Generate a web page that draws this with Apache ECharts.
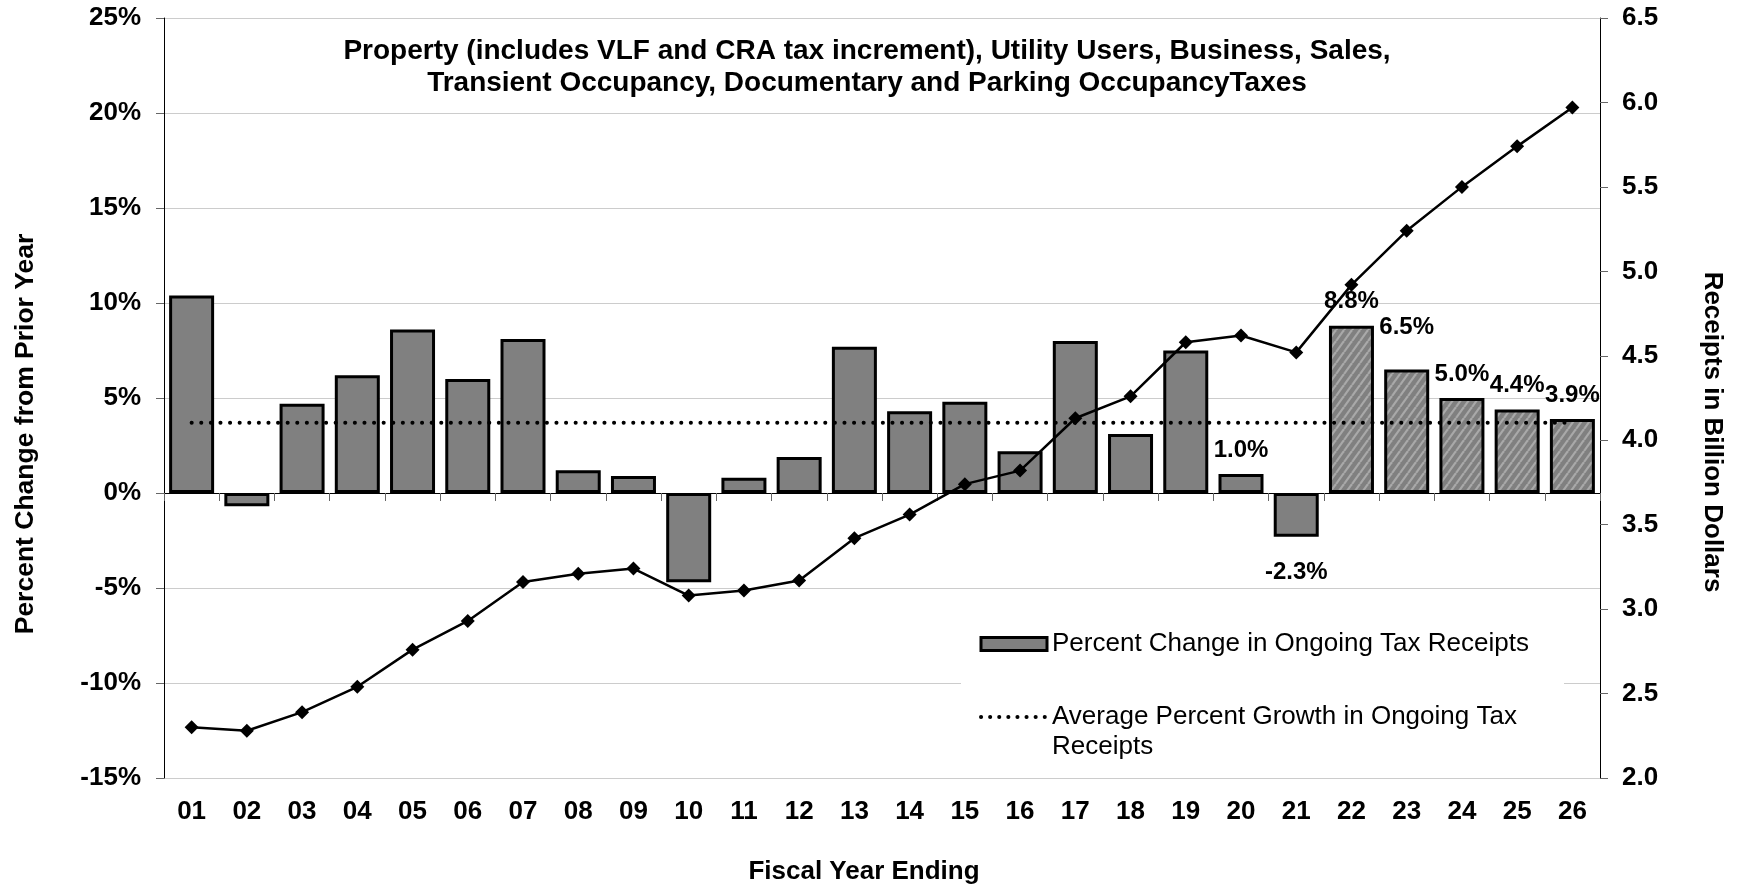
<!DOCTYPE html>
<html>
<head>
<meta charset="utf-8">
<script src="https://cdn.jsdelivr.net/npm/echarts@6/dist/echarts.min.js"></script>
<style>
  html, body { margin: 0; padding: 0; background: #fff; }
  #chart { width: 1744px; height: 890px; }
</style>
</head>
<body>
<div id="chart"></div>
<script>
// ---------------- DATA ----------------
const categories = ['01','02','03','04','05','06','07','08','09','10','11','12','13',
                    '14','15','16','17','18','19','20','21','22','23','24','25','26'];
// Percent change in ongoing tax receipts (%)
const pctChange = [10.4, -0.7, 4.7, 6.2, 8.6, 6.0, 8.1, 1.2, 0.9, -4.7, 0.8, 1.9, 7.7,
                   4.3, 4.8, 2.2, 8.0, 3.1, 7.5, 1.0, -2.3, 8.8, 6.5, 5.0, 4.4, 3.9];
// Ongoing tax receipts, billion dollars
const receipts = [2.30, 2.28, 2.39, 2.54, 2.76, 2.93, 3.16, 3.21, 3.24, 3.08, 3.11, 3.17, 3.42,
                  3.56, 3.74, 3.82, 4.13, 4.26, 4.58, 4.62, 4.52, 4.92, 5.24, 5.50, 5.74, 5.97];
// Average percent growth (%)
const avgGrowth = 3.7;
// Projected years (hatched bars)
const projectedYears = ['22','23','24','25','26'];
// Years whose bars carry a value label
const labelledYears = ['20','21','22','23','24','25','26'];
// Axis ticks
const leftTicks = { min: -15, max: 25, interval: 5 };
const rightTicks = { min: 2.0, max: 6.5, interval: 0.5 };

const titleText = 'Property (includes VLF and CRA tax increment), Utility Users, Business, Sales,\nTransient Occupancy, Documentary and Parking OccupancyTaxes';
const barName = 'Percent Change in Ongoing Tax Receipts';
const avgName = 'Average Percent Growth in Ongoing Tax Receipts';
const lineName = 'Ongoing Tax Receipts (Billion Dollars)';
const leftAxisName = 'Percent Change from Prior Year';
const rightAxisName = 'Receipts in Billion Dollars';
const xAxisName = 'Fiscal Year Ending';

// ---------------- STYLE ----------------
const FONT = "'Liberation Sans', Arial, Helvetica, sans-serif";
const BAR_GRAY = '#808080';
const DOTS = { color: '#000', width: 4, type: [0.1, 9.5], cap: 'round' };

function hatchPattern() {
  const w = 8, h = 11;
  const c = document.createElement('canvas');
  c.width = w; c.height = h;
  const g = c.getContext('2d');
  g.fillStyle = BAR_GRAY;
  g.fillRect(0, 0, w, h);
  g.strokeStyle = '#a9a9a9';
  g.lineWidth = 2.2;
  for (const k of [-1, 0, 1]) {
    g.beginPath();
    g.moveTo(k * w, h);
    g.lineTo(k * w + w, 0);
    g.stroke();
  }
  return c;
}
const hatch = { image: hatchPattern(), repeat: 'repeat' };

// per-label placement tweaks (style only)
const labelTweak = { '23': 30, '21': 24 };

const barData = pctChange.map((v, i) => {
  const cat = categories[i];
  const item = { value: v };
  if (projectedYears.includes(cat)) {
    item.itemStyle = { color: hatch };
  }
  if (labelledYears.includes(cat)) {
    item.label = {
      show: true,
      position: v < 0 ? 'bottom' : 'top',
      distance: labelTweak[cat] != null ? labelTweak[cat] : 12
    };
  }
  return item;
});

const chart = echarts.init(document.getElementById('chart'), null, { renderer: 'canvas' });

const option = {
  backgroundColor: '#ffffff',
  animation: false,
  title: {
    text: titleText,
    left: 867,
    top: 35,
    padding: 0,
    textAlign: 'center',
    textStyle: { fontFamily: FONT, fontSize: 28, fontWeight: 'bold', color: '#000', lineHeight: 32 }
  },
  grid: { left: 164, right: 144, top: 18, height: 765, containLabel: false },
  legend: {
    orient: 'vertical',
    left: 961,
    top: 609,
    padding: [20, 17, 15, 18],
    backgroundColor: '#ffffff',
    itemGap: 13,
    itemWidth: 66,
    itemHeight: 13,
    textStyle: { fontFamily: FONT, fontSize: 26, color: '#000', lineHeight: 30 },
    formatter: name => (name === avgName ? '\n' + name : name),
    data: [
      { name: barName, icon: 'rect', itemStyle: { borderColor: '#000', borderWidth: 3 } },
      { name: avgName, itemStyle: { opacity: 0 },
        lineStyle: { color: '#000', width: 4, type: [0.1, 9], cap: 'round' },
        textStyle: { width: 495, overflow: 'break' } }
    ]
  },
  xAxis: [
    {
      type: 'category',
      data: categories,
      position: 'bottom',
      boundaryGap: true,
      axisLine: { show: false, onZero: false },
      axisTick: { show: false },
      axisLabel: { fontFamily: FONT, fontSize: 26, fontWeight: 'bold', color: '#000', margin: 21, interval: 0 },
      splitLine: { show: false },
      name: xAxisName,
      nameLocation: 'middle',
      nameGap: 81,
      nameTextStyle: { fontFamily: FONT, fontSize: 26, fontWeight: 'bold', color: '#000', padding: [0, 36, 0, 0] }
    },
    {
      type: 'category',
      data: categories,
      position: 'bottom',
      boundaryGap: true,
      axisLine: { show: true, onZero: true, onZeroAxisIndex: 0, lineStyle: { color: '#000', width: 1.2 } },
      axisTick: { show: true, length: 8, inside: false, lineStyle: { color: '#666', width: 1 } },
      axisLabel: { show: false },
      splitLine: { show: false }
    }
  ],
  yAxis: [
    {
      type: 'value',
      position: 'left',
      min: leftTicks.min,
      max: leftTicks.max,
      interval: leftTicks.interval,
      axisLine: { show: true, lineStyle: { color: '#000', width: 1 } },
      axisTick: { show: true, length: 8, lineStyle: { color: '#666', width: 1 } },
      axisLabel: { fontFamily: FONT, fontSize: 26, fontWeight: 'bold', color: '#000', margin: 23,
                   formatter: v => v + '%' },
      splitLine: { show: true, lineStyle: { color: '#cccccc', width: 1 } },
      name: leftAxisName,
      nameLocation: 'middle',
      nameRotate: 90,
      nameGap: 125,
      nameTextStyle: { fontFamily: FONT, fontSize: 26.5, fontWeight: 'bold', color: '#000', padding: [0, 72, 0, 0] }
    },
    {
      type: 'value',
      position: 'right',
      min: rightTicks.min,
      max: rightTicks.max,
      interval: rightTicks.interval,
      axisLine: { show: true, lineStyle: { color: '#000', width: 1 } },
      axisTick: { show: true, length: 8, lineStyle: { color: '#666', width: 1 } },
      axisLabel: { fontFamily: FONT, fontSize: 26, fontWeight: 'bold', color: '#000', margin: 22,
                   formatter: v => v.toFixed(1) },
      splitLine: { show: false },
      name: rightAxisName,
      nameLocation: 'middle',
      nameRotate: -90,
      nameGap: 99,
      nameTextStyle: { fontFamily: FONT, fontSize: 26, fontWeight: 'bold', color: '#000', padding: [0, 0, 0, 68] }
    }
  ],
  series: [
    {
      name: barName,
      type: 'bar',
      xAxisIndex: 0,
      yAxisIndex: 0,
      data: barData,
      barWidth: 45,
      itemStyle: { color: BAR_GRAY, borderColor: '#000', borderWidth: 3 },
      label: {
        show: false,
        fontFamily: FONT, fontSize: 24, fontWeight: 'bold', color: '#000',
        formatter: p => p.value.toFixed(1) + '%'
      },
      z: 2
    },
    {
      name: avgName,
      type: 'line',
      xAxisIndex: 0,
      yAxisIndex: 0,
      data: categories.map(() => avgGrowth),
      symbol: 'none',
      lineStyle: DOTS,
      itemStyle: { color: '#000' },
      z: 3
    },
    {
      name: lineName,
      type: 'line',
      xAxisIndex: 0,
      yAxisIndex: 1,
      data: receipts,
      symbol: 'diamond',
      symbolSize: 14,
      lineStyle: { color: '#000', width: 2.5 },
      itemStyle: { color: '#000' },
      z: 4
    }
  ]
};

chart.setOption(option);
</script>
</body>
</html>
